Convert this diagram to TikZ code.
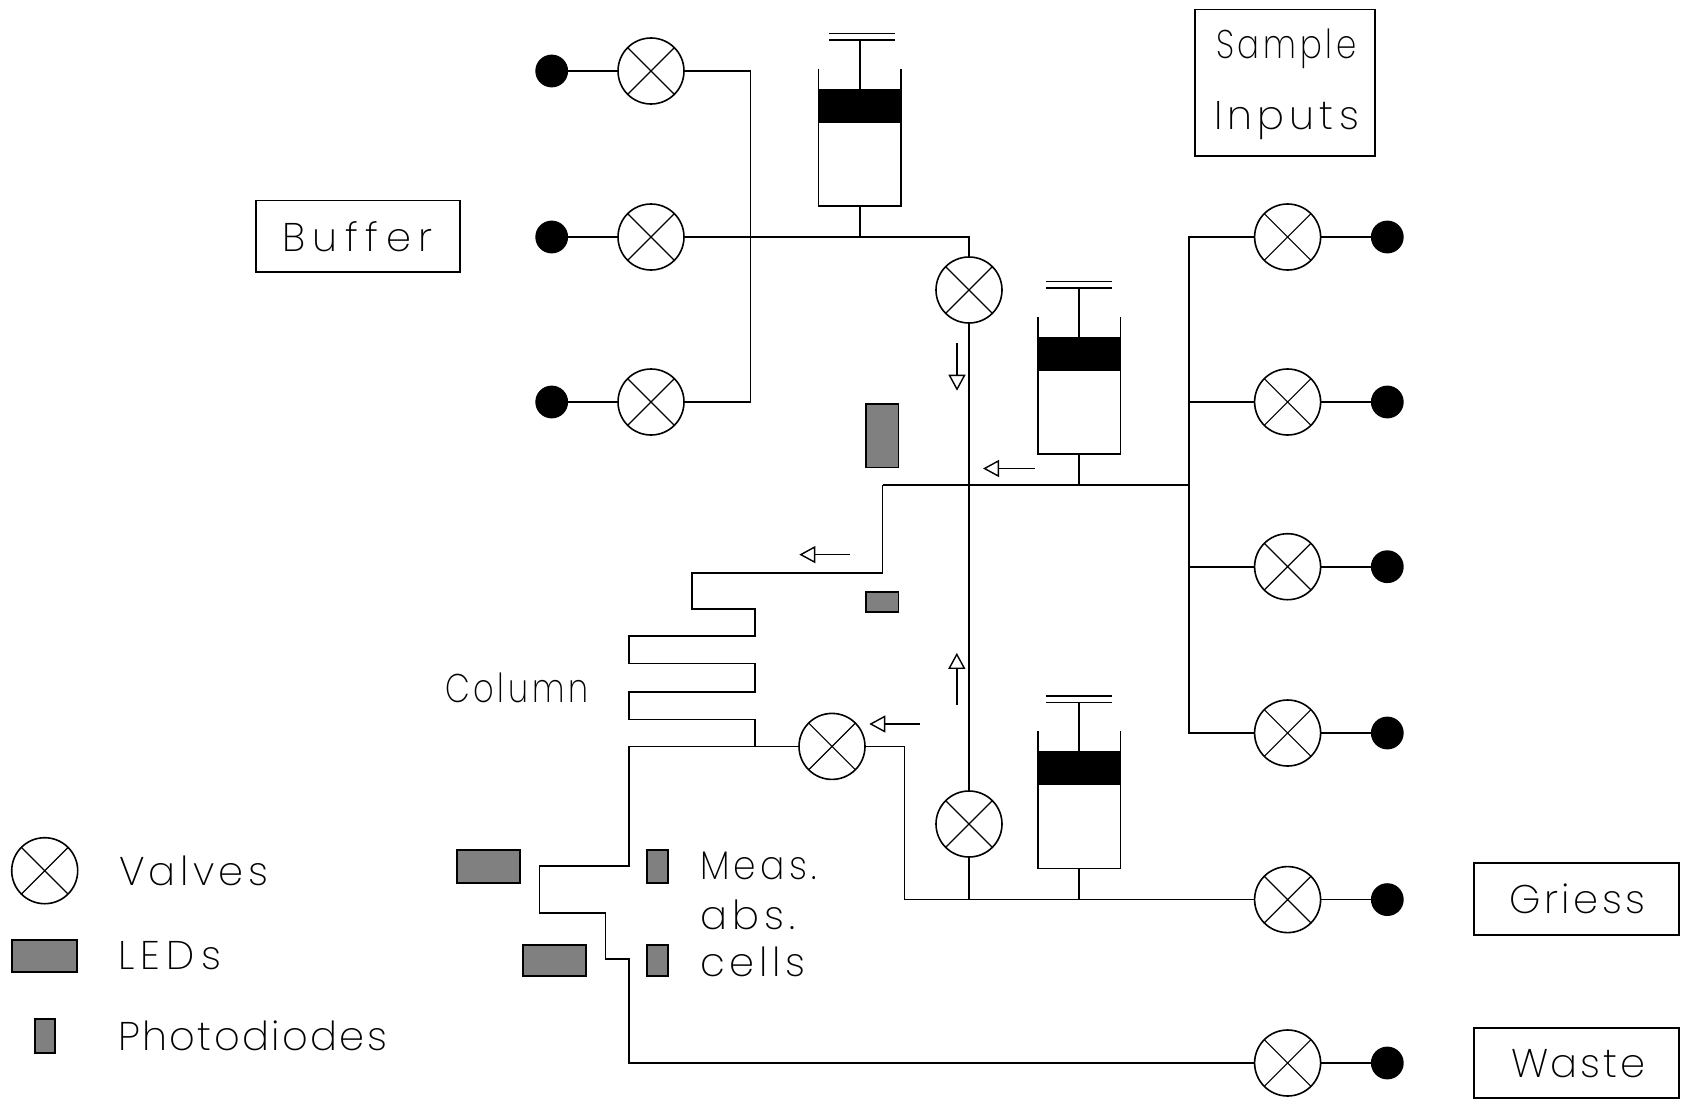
\documentclass[tikz,border=0pt]{standalone}
\usepackage{fontspec}
\usepackage{graphicx}
\newfontfamily\cadfont{Poppins ExtraLight}
\usetikzlibrary{arrows.meta}
\newcommand{\barshift}{0}
\newcommand{\cadword}[2]{{\addfontfeature{LetterSpace=#1}#2}}
\tikzset{
  wire/.style={line width=0.8pt,line join=miter},
  valve/.style={circle,draw,line width=0.8pt,minimum size=33pt,inner sep=0pt,outer sep=0pt,
    path picture={\draw[line width=0.6pt] (path picture bounding box.north west)--(path picture bounding box.south east)
      (path picture bounding box.north east)--(path picture bounding box.south west);}},
  port/.style={circle,fill=black,minimum size=16.4pt,inner sep=0pt,outer sep=0pt},
  labelbox/.style={draw,line width=0.8pt,inner sep=0pt,outer sep=0pt},
  ledbox/.style={draw,fill=black!50,line width=0.9pt,inner sep=0pt,outer sep=0pt},
  cadtext/.style={anchor=base west,inner sep=0pt,outer sep=0pt,font=\cadfont\fontsize{20}{24}\selectfont},
  flow/.style={wire,-{Triangle[open,length=8pt,width=8.5pt,line width=0.7pt]}},
  syringe/.pic={
    \coordinate (-base) at (0,0);
    \node[fill=black,inner sep=0pt,outer sep=0pt,minimum width=41.3pt,minimum height=17pt] (-piston) at (0,-100) {};
    \draw[wire] (-41.3,-137)--(-41.3,0)--(41.3,0)--(41.3,-137);
    \coordinate (-handle) at (0,-166);
    \draw[wire] (-piston.north)--(-handle);
    \draw[wire] (-33+\barshift,-166)--(33+\barshift,-166) (-33+\barshift,-172.4)--(33+\barshift,-172.4);
  }
}
\begin{document}
\begin{tikzpicture}[x=0.5pt,y=-0.5pt]
\useasboundingbox (0,0) rectangle (1681,1103);
% labelled boxes
\node[labelbox,minimum width=90pt,minimum height=73.2pt] (boxSample) at (1284.7,82.5) {};
\node[labelbox,minimum width=102pt,minimum height=35.8pt] (boxBuffer) at (358,236.2) {};
\node[labelbox,minimum width=102.5pt,minimum height=36pt] (boxGriess) at (1576.5,899) {};
\node[labelbox,minimum width=102.5pt,minimum height=35pt] (boxWaste) at (1576.5,1063) {};
\node[cadtext] (tSample) at (1216,58) {\scalebox{0.81}[1]{\cadword{12}{Sample}}};
\node[cadtext] (tInputs) at (1214,129) {\cadword{13}{Inputs}};
\node[cadtext] (tBuffer) at (282,251) {\cadword{19}{Buffer}};
\node[cadtext] (tGriess) at (1509,913.5) {\cadword{9}{Griess}};
\node[cadtext] (tWaste) at (1511,1077.5) {\cadword{7}{Waste}};
\node[cadtext] (tColumn) at (445,702.5) {\scalebox{0.8}[1]{\cadword{12}{Column}}};
\node[cadtext] (tMeas) at (700,879) {\scalebox{0.9}[1]{\cadword{12}{Meas.}}};
\node[cadtext] (tAbs) at (700,929) {\cadword{13}{abs.}};
\node[cadtext] (tCells) at (700,976) {\cadword{12}{cells}};
\node[cadtext] (tValves) at (119,885) {\cadword{11}{Valves}};
\node[cadtext] (tLEDs) at (118,969) {\cadword{16}{LEDs}};
\node[cadtext] (tPhoto) at (118,1050) {\cadword{6}{Photodiodes}};
% ports
\foreach \n/\y in {A/71,B/237,C/402}{
  \node[port] (d\n) at (551.7,\y) {};
  \node[valve] (v\n) at (651,\y) {};
  \draw[wire] (d\n)--(v\n);
}
\foreach \n/\y in {D/237,E/402,F/566.7,G/733,H/899.6,I/1063}{
  \node[port] (d\n) at (1387.3,\y) {};
  \node[valve] (v\n) at (1287.6,\y) {};
  \draw[wire] (v\n)--(d\n);
}
\node[valve] (vTop) at (969,290) {};
\node[valve] (vBot) at (969,824) {};
\node[valve] (vCol) at (832,746.4) {};
\node[valve] (vLegend) at (44.7,870.7) {};
% LEDs and photodiodes
\node[ledbox,minimum width=16.4pt,minimum height=31.7pt] (ledUp) at (882,435.7) {};
\node[ledbox,minimum width=16.4pt,minimum height=10pt] (pdUp) at (882,602) {};
\node[ledbox,minimum width=31.6pt,minimum height=16.8pt] (led1) at (488.2,866.4) {};
\node[ledbox,minimum width=31.5pt,minimum height=15.5pt] (led2) at (554.2,960.5) {};
\node[ledbox,minimum width=10.5pt,minimum height=16.8pt] (pd1) at (657.5,866.4) {};
\node[ledbox,minimum width=10.5pt,minimum height=15.5pt] (pd2) at (657.5,960.5) {};
\node[ledbox,minimum width=32.5pt,minimum height=15.8pt] (ledLegend) at (44.5,955.8) {};
\node[ledbox,minimum width=10pt,minimum height=17pt] (pdLegend) at (44.7,1036) {};
% syringes
\renewcommand{\barshift}{2.3}
\pic (s1) at (859.7,205.7) {syringe};
\renewcommand{\barshift}{0}
\pic (s2) at (1079.2,453.7) {syringe};
\pic (s3) at (1079.2,868.3) {syringe};
% junctions
\coordinate (jL) at (750.3,237);
\coordinate (j1) at (859.7,237);
\coordinate (jT) at (969,237);
\coordinate (j2) at (1079.2,485);
\coordinate (jR) at (1189,485);
\coordinate (jX) at (882.5,485);
\coordinate (jRT) at (1189,237);
\coordinate (jRE) at (1189,402);
\coordinate (jRF) at (1189,566.7);
\coordinate (jRG) at (1189,733);
\coordinate (j3) at (1079.2,899.6);
\coordinate (jV) at (969,899.6);
\coordinate (jW) at (904.6,899.6);
\coordinate (c1) at (882.5,572.9);
\coordinate (c2) at (692,572.9);
\coordinate (c3) at (692,609);
\coordinate (c4) at (755,609);
\coordinate (c5) at (755,636);
\coordinate (c6) at (629,636);
\coordinate (c7) at (629,663.6);
\coordinate (c8) at (755,663.6);
\coordinate (c9) at (755,692);
\coordinate (c10) at (629,692);
\coordinate (c11) at (629,719.3);
\coordinate (c12) at (755,719.3);
\coordinate (c13) at (755,746.4);
\coordinate (m1) at (629,746.4);
\coordinate (m2) at (629,866);
\coordinate (m3) at (539.3,866);
\coordinate (m4) at (539.3,913.2);
\coordinate (m5) at (605.4,913.2);
\coordinate (m6) at (605.4,959);
\coordinate (m7) at (629,959);
\coordinate (m8) at (629,1063);
\coordinate (g1) at (904.6,746.4);
% connectors
\draw[wire] (vA) -| (jL) -- (vC.east -| jL) -- (vC);
\draw[wire] (vB) -- (jT) -- (vTop);
\draw[wire] (s1-base) -- (j1);
\draw[wire] (vTop) -- (vBot);
\draw[wire] (vBot) -- (jV);
\draw[wire] (jX) -- (jR);
\draw[wire] (s2-base) -- (j2);
\draw[wire] (vD) -- (jRT) -- (jRG) -- (vG);
\draw[wire] (jRE) -- (vE);
\draw[wire] (jRF) -- (vF);
\draw[wire] (jX) -- (c1) -- (c2) -- (c3) -- (c4) -- (c5) -- (c6) -- (c7) -- (c8) -- (c9) -- (c10) -- (c11) -- (c12) -- (c13);
\draw[wire] (vCol) -- (m1) -- (m2) -- (m3) -- (m4) -- (m5) -- (m6) -- (m7) -- (m8) -- (vI);
\draw[wire] (vCol) -- (g1) -- (jW) -- (vH);
\draw[wire] (s3-base) -- (j3);
% flow arrows
\coordinate (a1s) at (957,343); \coordinate (a1e) at (957,390.7);
\coordinate (a2s) at (1034.6,468.5); \coordinate (a2e) at (983,468.5);
\coordinate (a3s) at (850,554.6); \coordinate (a3e) at (799.3,554.6);
\coordinate (a4s) at (956.8,705); \coordinate (a4e) at (956.8,652.9);
\coordinate (a5s) at (920.4,724); \coordinate (a5e) at (869.3,724);
\draw[flow] (a1s)--(a1e);
\draw[flow] (a2s)--(a2e);
\draw[flow] (a3s)--(a3e);
\draw[flow] (a4s)--(a4e);
\draw[flow] (a5s)--(a5e);
\end{tikzpicture}
\end{document}
